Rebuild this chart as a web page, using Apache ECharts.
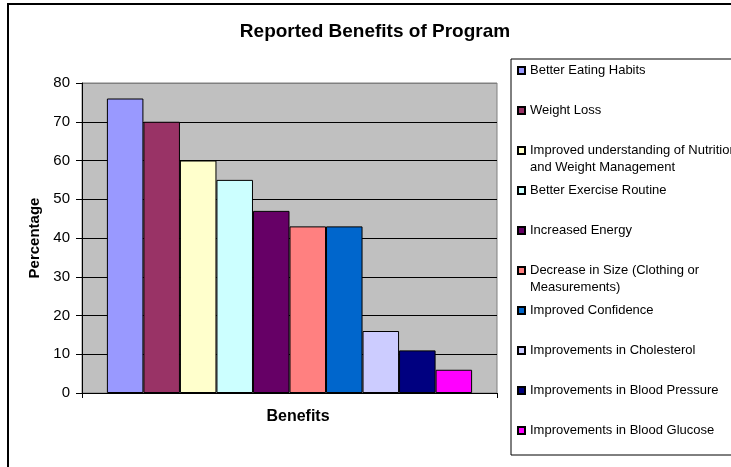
<!DOCTYPE html>
<html>
<head>
<meta charset="utf-8">
<script src="https://cdn.jsdelivr.net/npm/echarts@6/dist/echarts.min.js"></script>
<style>
  html, body { margin: 0; padding: 0; background: #fff; }
  #chart { width: 731px; height: 467px; }
</style>
</head>
<body>
<div id="chart"></div>
<script>
// ---- data ----
const chartTitle = 'Reported Benefits of Program';
const xAxisTitle = 'Benefits';
const yAxisTitle = 'Percentage';
const benefitNames = [
  'Better Eating Habits',
  'Weight Loss',
  'Improved understanding of Nutrition and Weight Management',
  'Better Exercise Routine',
  'Increased Energy',
  'Decrease in Size (Clothing or Measurements)',
  'Improved Confidence',
  'Improvements in Cholesterol',
  'Improvements in Blood Pressure',
  'Improvements in Blood Glucose'
];
// legend labels as wrapped in the original
const legendLabels = [
  'Better Eating Habits',
  'Weight Loss',
  'Improved understanding of Nutrition\nand Weight Management',
  'Better Exercise Routine',
  'Increased Energy',
  'Decrease in Size (Clothing or\nMeasurements)',
  'Improved Confidence',
  'Improvements in Cholesterol',
  'Improvements in Blood Pressure',
  'Improvements in Blood Glucose'
];
const percentages = [76, 70, 60, 55, 47, 43, 43, 16, 11, 6];
const barColors = ['#9999FF', '#993366', '#FFFFCC', '#CCFFFF', '#660066',
                   '#FF8080', '#0066CC', '#CCCCFF', '#000080', '#FF00FF'];
const categories = [''];
const yMin = 0, yMax = 80, yInterval = 10;

// ---- chart ----
const FONT = 'Liberation Sans, Arial, Helvetica, sans-serif';
const chart = echarts.init(document.getElementById('chart'), null, { renderer: 'canvas' });

const series = benefitNames.map((name, i) => ({
  name: name,
  type: 'bar',
  data: [percentages[i]],
  barGap: '0%',
  barCategoryGap: '12%',
  itemStyle: { color: barColors[i], borderColor: '#000', borderWidth: 1 },
  emphasis: { disabled: true },
  animation: false
}));

const splitColors = [];
for (let v = yMin; v <= yMax; v += yInterval) splitColors.push(v === yMax ? '#808080' : '#000');

const option = {
  backgroundColor: '#fff',
  animation: false,
  graphic: [{
    type: 'rect', z: -10, silent: true,
    shape: { x: 8, y: 4, width: 800, height: 600 },
    style: { fill: 'none', stroke: '#000', lineWidth: 2 }
  }],
  title: {
    text: chartTitle,
    left: 370,
    textAlign: 'center',
    top: 17,
    padding: 5,
    textStyle: { fontFamily: FONT, fontSize: 19, fontWeight: 'bold', color: '#000' }
  },
  legend: {
    orient: 'vertical',
    left: 511,
    top: 59,
    padding: [5, 14, 1, 6],
    itemGap: 10,
    itemWidth: 7,
    itemHeight: 7,
    icon: 'rect',
    selectedMode: false,
    borderColor: '#000',
    borderWidth: 1,
    data: benefitNames,
    formatter: function (name) {
      const parts = legendLabels[benefitNames.indexOf(name)].split('\n');
      if (parts.length < 2) parts.push(' ');
      return parts.map(p => '{t|' + p + '}').join('\n');
    },
    textStyle: {
      padding: [17, 0, 0, 0],
      rich: {
        t: { fontFamily: FONT, fontSize: 13, lineHeight: 17, color: '#000' }
      }
    }
  },
  grid: {
    left: 82, top: 83, right: 234, bottom: 74,
    show: true,
    backgroundColor: '#C0C0C0',
    borderColor: '#808080',
    borderWidth: 1
  },
  xAxis: {
    type: 'category',
    data: categories,
    name: xAxisTitle,
    nameLocation: 'middle',
    nameGap: 16,
    nameTextStyle: { fontFamily: FONT, fontSize: 16, fontWeight: 'bold', color: '#000', padding: [0, 0, 0, 17] },
    axisLine: { lineStyle: { color: '#000', width: 1 } },
    axisTick: { show: true, length: 5, lineStyle: { color: '#000' } },
    axisLabel: { show: false },
    splitLine: { show: false }
  },
  yAxis: {
    type: 'value',
    min: yMin, max: yMax, interval: yInterval,
    name: yAxisTitle,
    nameLocation: 'middle',
    nameRotate: 90,
    nameGap: 36,
    nameTextStyle: { fontFamily: FONT, fontSize: 15, fontWeight: 'bold', color: '#000' },
    axisLine: { show: true, lineStyle: { color: '#000', width: 1 } },
    axisTick: { show: true, length: 6, lineStyle: { color: '#000' } },
    axisLabel: { margin: 12, fontFamily: FONT, fontSize: 15, color: '#000' },
    splitLine: { show: true, lineStyle: { color: splitColors, width: 1 } }
  },
  series: series
};
chart.setOption(option);
</script>
</body>
</html>
